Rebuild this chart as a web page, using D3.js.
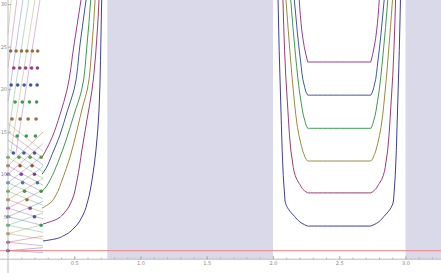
<!DOCTYPE html>
<html>
<head>
<meta charset="utf-8">
<style>
  html, body { margin: 0; padding: 0; background: #fff; }
  svg { display: block; }
  .tick text { font-family: "DejaVu Sans", sans-serif; font-size: 5px; fill: #888; }
</style>
</head>
<body>
<svg id="chart" width="441" height="273"></svg>
<script src="https://cdn.jsdelivr.net/npm/d3@7"></script>
<script>
// Mathematica-style colour cycle
const palette = ["#3f3d99", "#993d71", "#998b3d", "#3d9956", "#3d5a99", "#993d90",
                 "#996d3d", "#43993d", "#3d7999", "#843d99", "#994e3d", "#62993d", "#3d9899"];

// shaded x ranges and the threshold line
const bands = [[0.75, 2.0], [3.0, 3.4]];
const threshold = 1;

// dot rows: [level, x positions, colour index]
const dotRows = [
  [1, [0], 0], [2, [0], 1], [3, [0], 2], [4, [0, 0.25], 3], [5, [0, 0.2], 4],
  [6, [0, 0.167], 5], [7, [0, 0.143], 6], [8, [0, 0.125, 0.25], 7],
  [9, [0, 0.111, 0.222], 8], [10, [0, 0.1, 0.2], 9], [11, [0, 0.091, 0.182], 10],
  [12, [0, 0.083, 0.167, 0.25], 11],
  [12.5, [0.04, 0.12, 0.2], 4], [14.5, [0.069, 0.138, 0.207], 3],
  [16.5, [0.03, 0.091, 0.152, 0.212], 6], [18.5, [0.054, 0.108, 0.162, 0.216], 3],
  [20.5, [0.024, 0.073, 0.122, 0.171, 0.22], 4], [22.5, [0.044, 0.089, 0.133, 0.178, 0.222], 5],
  [24.5, [0.02, 0.061, 0.102, 0.143, 0.184, 0.224], 6]
];

// shallow fan lines from the axis: [level at x=0, level at x=0.264]
const fanUp = [[1, 1.36], [2, 2.72], [3, 4.08], [4, 5.44], [5, 6.8], [6, 8.15],
               [7, 9.5], [8, 10.9], [9, 12.2], [10, 13.6], [11, 14.95]];
const fanDown = [[1, 0.79], [2, 1.58], [3, 2.37], [4, 3.16], [5, 3.96], [6, 4.75],
                 [7, 5.54], [8, 6.33], [9, 7.12], [10, 7.91], [11, 8.7], [12, 9.49],
                 [13, 10.3], [14, 11.1], [15, 11.9], [16, 12.7]];

// steep lines in the upper part: [[x, y] start, [x, y] end, colour index]
const steepLines = [
  [[0, 26.5], [0.025, 30.6], 2], [[0, 22.5], [0.068, 30.6], 1], [[0, 18.5], [0.113, 30.6], 4],
  [[0, 14.5], [0.158, 30.6], 3], [[0.02, 12.5], [0.204, 30.6], 2], [[0.06, 12.5], [0.242, 30.6], 5]
];

// left curves (x 0.26 .. 0.71)
const leftCurves = [
  [[0.264, 2.14], [0.355, 2.38], [0.430, 2.85], [0.506, 3.79], [0.566, 5.2], [0.604, 6.96], [0.634, 9.3], [0.664, 12.85], [0.687, 17.55], [0.698, 23.4], [0.707, 30.5]],
  [[0.264, 4.14], [0.355, 4.61], [0.430, 5.55], [0.483, 6.96], [0.521, 9.3], [0.558, 12.85], [0.596, 16.4], [0.634, 19.9], [0.664, 24.6], [0.687, 30.5]],
  [[0.257, 6.0], [0.317, 6.6], [0.362, 7.55], [0.408, 9.3], [0.468, 12.0], [0.521, 15.2], [0.566, 18.1], [0.598, 19.9], [0.634, 25.2], [0.657, 30.5]],
  [[0.257, 8.0], [0.287, 8.5], [0.317, 9.3], [0.377, 11.4], [0.438, 14.0], [0.498, 17.0], [0.556, 19.9], [0.596, 25.2], [0.624, 30.5]],
  [[0.257, 10.0], [0.287, 10.7], [0.332, 12.3], [0.392, 14.6], [0.445, 17.3], [0.498, 19.9], [0.543, 25.2], [0.589, 30.5]],
  [[0.257, 12.0], [0.279, 12.6], [0.332, 14.3], [0.392, 17.0], [0.445, 19.9], [0.498, 25.2], [0.551, 30.5]]
];

// right wells: left branch from top to the corner, mirrored about x = 2.5
const wellBranches = [
  [[2.038, 30.5], [2.058, 18.6], [2.09, 6.96], [2.153, 5.2], [2.262, 3.9]],
  [[2.075, 30.5], [2.108, 18.6], [2.153, 10.8], [2.198, 8.9], [2.262, 7.8]],
  [[2.098, 30.5], [2.13, 24], [2.161, 18.6], [2.185, 15.5], [2.21, 13.6], [2.235, 12.3], [2.262, 11.55]],
  [[2.134, 30.5], [2.17, 24], [2.211, 18.6], [2.24, 16.3], [2.262, 15.4]],
  [[2.161, 30.5], [2.185, 26.5], [2.209, 23.2], [2.235, 20.5], [2.262, 19.3]],
  [[2.198, 30.5], [2.262, 23.2]]
];

const xTicks = [0.5, 1.0, 1.5, 2.0, 2.5, 3.0];
const yTicks = [5, 10, 15, 20, 25, 30];

const W = 441, H = 273;
const svg = d3.select("#chart");
const x = d3.scaleLinear().domain([0, 3]).range([8, 405.5]);
const y = d3.scaleLinear().domain([0, 30]).range([259.2, 4.2]);

// shading
svg.selectAll("rect.band").data(bands).enter().append("rect")
  .attr("x", d => x(d[0])).attr("width", d => x(d[1]) - x(d[0]))
  .attr("y", 0).attr("height", y(0))
  .attr("fill", "#d9d9ea");

const line = d3.line().x(d => x(d[0])).y(d => y(d[1]));
const smooth = d3.line().x(d => x(d[0])).y(d => y(d[1])).curve(d3.curveMonotoneY);

const plot = svg.append("g");
const faint = (path, c) => path.attr("fill", "none").attr("stroke", palette[c % palette.length])
  .attr("stroke-opacity", 0.45).attr("stroke-width", 0.8);

// fan lines
fanDown.forEach((d, i) => faint(plot.append("path").attr("d", line([[0, d[0]], [0.264, d[1]]])), i));
fanUp.forEach((d, i) => faint(plot.append("path").attr("d", line([[0, d[0]], [0.264, d[1]]])), i));
steepLines.forEach(d => faint(plot.append("path").attr("d", line([d[0], d[1]])), d[2]));

// curves
leftCurves.forEach((pts, i) => {
  plot.append("path").attr("d", smooth(pts))
    .attr("fill", "none").attr("stroke", palette[i]).attr("stroke-width", 1);
});
wellBranches.forEach((pts, i) => {
  const right = pts.slice().reverse().map(p => [5 - p[0], p[1]]);
  plot.append("path").attr("d", smooth(pts.concat(right)))
    .attr("fill", "none").attr("stroke", palette[i]).attr("stroke-width", 1);
});

// threshold
plot.append("line")
  .attr("x1", 0).attr("x2", W).attr("y1", y(threshold)).attr("y2", y(threshold))
  .attr("stroke", "#f08080").attr("stroke-width", 1);

// dots
const dots = [];
dotRows.forEach(r => r[1].forEach(v => dots.push([v, r[0], r[2]])));
plot.selectAll("circle").data(dots).enter().append("circle")
  .attr("cx", d => x(d[0])).attr("cy", d => y(d[1])).attr("r", 1.8)
  .attr("fill", d => palette[d[2] % palette.length]);

// axes
const xAxis = d3.axisBottom(x).tickValues(xTicks).tickSizeInner(-3).tickSizeOuter(0)
  .tickPadding(2).tickFormat(d3.format(".1f"));
const gx = svg.append("g").attr("transform", `translate(0,${y(0)})`).call(xAxis);
gx.select(".domain").remove();
gx.selectAll("line").attr("stroke", "#aaa");
svg.append("g").attr("transform", `translate(0,${y(0)})`)
  .call(d3.axisBottom(x).tickValues(d3.range(1, 33).map(d => d / 10)).tickSizeInner(-1.5).tickSizeOuter(0).tickFormat(""))
  .call(g => g.select(".domain").remove())
  .selectAll("line").attr("stroke", "#aaa");
svg.append("line").attr("x1", 0).attr("x2", W).attr("y1", y(0)).attr("y2", y(0))
  .attr("stroke", "#bbb");

const yAxis = d3.axisLeft(y).tickValues(yTicks).tickSizeInner(-3).tickSizeOuter(0).tickPadding(1);
const gy = svg.append("g").attr("transform", `translate(${x(0)},0)`).call(yAxis);
gy.select(".domain").remove();
gy.selectAll("line").attr("stroke", "#aaa");
svg.append("line").attr("x1", x(0)).attr("x2", x(0)).attr("y1", 0).attr("y2", H)
  .attr("stroke", "#bbb");
</script>
</body>
</html>
